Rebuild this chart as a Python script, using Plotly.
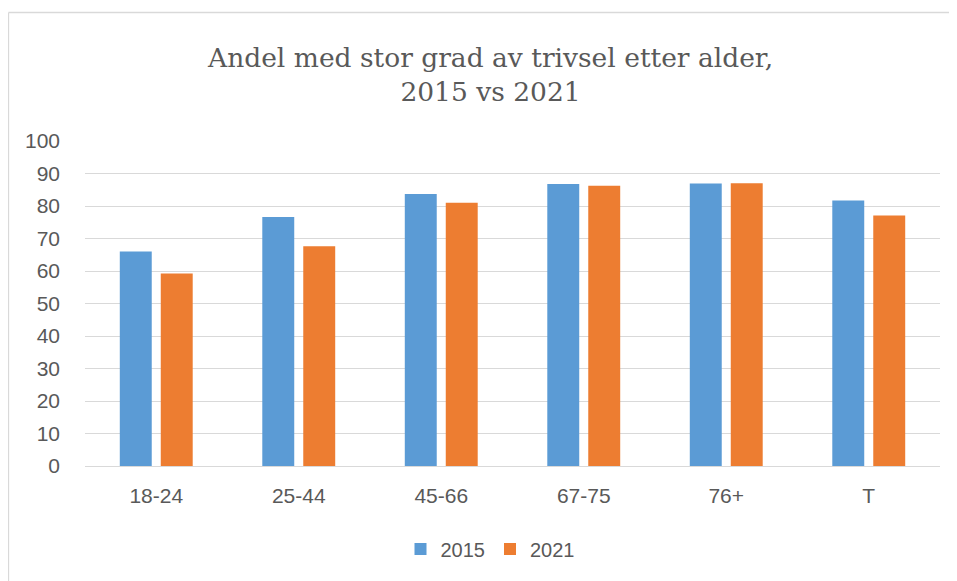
import plotly.graph_objects as go

categories = ["18-24", "25-44", "45-66", "67-75", "76+", "T"]
values_2015 = [66, 76.6, 83.7, 86.8, 86.9, 81.7]
values_2021 = [59.2, 67.6, 81.0, 86.2, 87.0, 77.1]
y_ticks = [0, 10, 20, 30, 40, 50, 60, 70, 80, 90, 100]

# page has an 8px body margin, so the figure is drawn 8px in from the window edge
OFF = 8
W, H = 957 - OFF, 581 - OFF
L, R, T, B = 85 - OFF, 17, 141 - OFF, 115

fig = go.Figure()
fig.add_trace(go.Bar(name="2015", x=categories, y=values_2015, marker_color="#5B9BD5",
                     marker_line_width=0))
fig.add_trace(go.Bar(name="2021", x=categories, y=values_2021, marker_color="#ED7D31",
                     marker_line_width=0))

def px_x(px):
    return (px - OFF - L) / (W - L - R)

def px_y(py):
    return (H - B - (py - OFF)) / (H - T - B)

fig.update_layout(
    width=W, height=H,
    margin=dict(l=L, r=R, t=T, b=B, pad=0),
    paper_bgcolor="white", plot_bgcolor="white",
    barmode="group", bargap=0.425, bargroupgap=0.22,
    font=dict(family="Liberation Sans", color="#595959", size=21),
    showlegend=True,
    legend=dict(orientation="h", x=px_x(490), xanchor="center", y=px_y(549), yanchor="middle",
                font=dict(size=20, color="#595959"), itemwidth=30, traceorder="normal"),
    xaxis=dict(showgrid=False, showline=True, linecolor="#D9D9D9", linewidth=1.3,
               ticks="", tickfont=dict(size=21, color="#595959"), ticklabelstandoff=11),
    yaxis=dict(range=[0, 100], tickvals=y_ticks, showgrid=True, gridcolor="#D9D9D9",
               gridwidth=1.3, zeroline=False, showline=False, ticks="",
               tickfont=dict(size=21, color="#595959"), ticklabelstandoff=24),
    annotations=[dict(text="Andel med stor grad av trivsel etter alder,<br>2015 vs 2021",
                      x=px_x(490), y=px_y(75), xref="paper", yref="paper",
                      xanchor="center", yanchor="middle", showarrow=False,
                      font=dict(family="DejaVu Serif", size=26.5, color="#595959"))],
    shapes=[
        dict(type="line", xref="paper", yref="paper", x0=px_x(8.5), x1=px_x(970),
             y0=px_y(12.5), y1=px_y(12.5), line=dict(color="#D9D9D9", width=1.3)),
        dict(type="line", xref="paper", yref="paper", x0=px_x(8.5), x1=px_x(8.5),
             y0=px_y(12.5), y1=px_y(600), line=dict(color="#D9D9D9", width=1.3)),
    ],
)

fig.write_html("out.html")
